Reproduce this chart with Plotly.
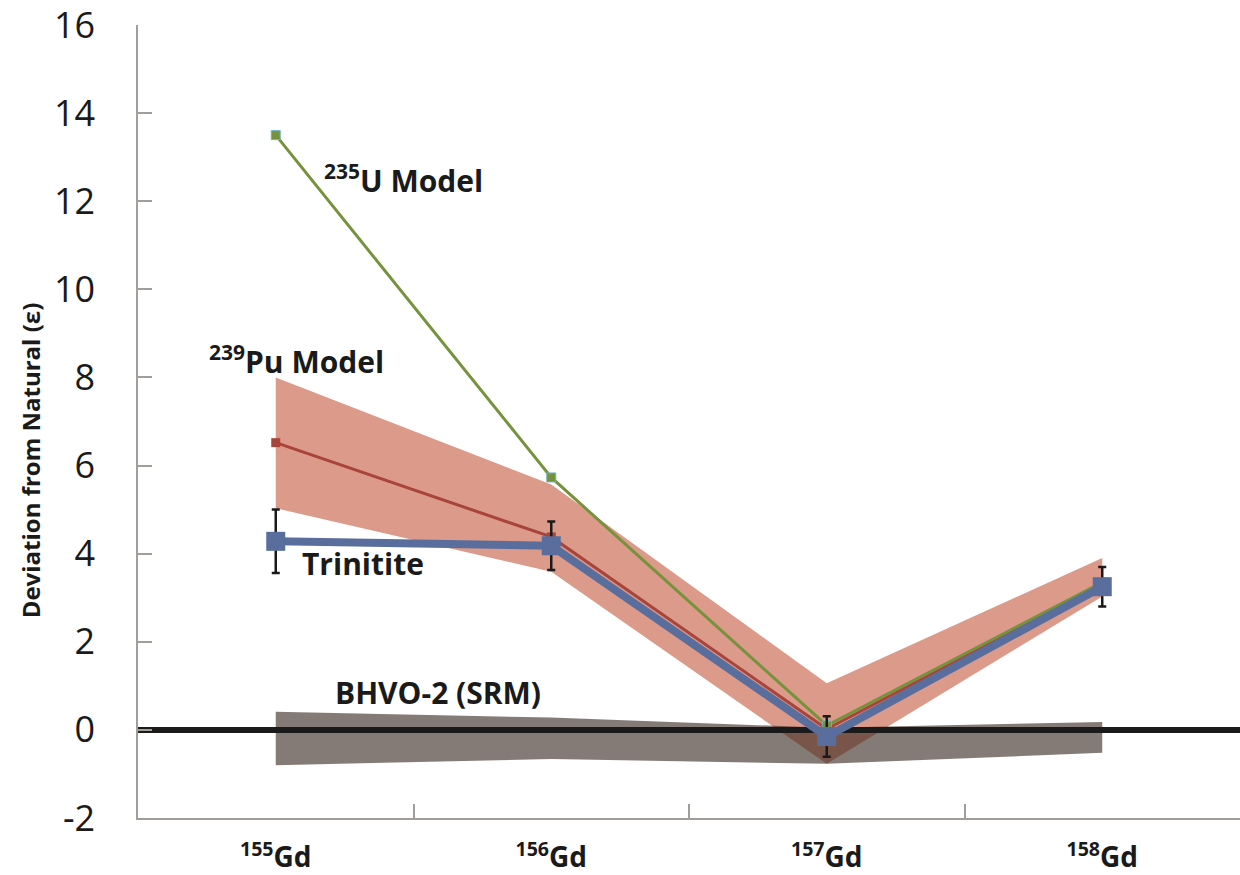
import plotly.graph_objects as go

# ---- data ----
isotopes = ["155", "156", "157", "158"]
x_pos = [0, 1, 2, 3]
u235_model = [13.5, 5.73, 0.1, 3.35]
pu239_model = [6.52, 4.38, 0.02, 3.3]
pu239_upper = [8.0, 5.57, 1.06, 3.9]
pu239_lower = [5.03, 3.59, -0.77, 3.03]
trinitite = [4.28, 4.18, -0.15, 3.25]
trinitite_err = [0.72, 0.55, 0.46, 0.45]
bhvo_upper = [0.41, 0.28, 0.05, 0.18]
bhvo_lower = [-0.8, -0.66, -0.77, -0.52]
baseline = 0
y_ticks = [-2, 0, 2, 4, 6, 8, 10, 12, 14, 16]
y_tick_text = ["-2", "0", "2", "4", "6", "8", "10", "12", "14", "16"]
x_range = [-0.5, 3.5]

FONT = "Open Sans"
AXIS_COLOR = "#a39d99"

fig = go.Figure()

# 239Pu model band
fig.add_trace(go.Scatter(x=x_pos, y=pu239_lower, mode="lines", line=dict(width=0),
                         showlegend=False, hoverinfo="skip"))
fig.add_trace(go.Scatter(x=x_pos, y=pu239_upper, mode="lines", line=dict(width=0),
                         fill="tonexty", fillcolor="#dc9a8a", showlegend=False, hoverinfo="skip"))
# BHVO-2 band
fig.add_trace(go.Scatter(x=x_pos, y=bhvo_lower, mode="lines", line=dict(width=0),
                         showlegend=False, hoverinfo="skip"))
fig.add_trace(go.Scatter(x=x_pos, y=bhvo_upper, mode="lines", line=dict(width=0),
                         fill="tonexty", fillcolor="rgba(58,42,34,0.62)", showlegend=False,
                         hoverinfo="skip"))
# baseline
fig.add_trace(go.Scatter(x=x_range, y=[baseline, baseline], mode="lines",
                         line=dict(color="#1a1a1a", width=6), showlegend=False, hoverinfo="skip"))
# 239Pu model line
fig.add_trace(go.Scatter(x=x_pos, y=pu239_model, mode="lines+markers",
                         line=dict(color="#a8443a", width=3),
                         marker=dict(symbol="square", size=9, color="#a8443a"),
                         showlegend=False))
# 235U model line
fig.add_trace(go.Scatter(x=x_pos, y=u235_model, mode="lines+markers",
                         line=dict(color="#76923c", width=3),
                         marker=dict(symbol="square", size=9, color="#76923c",
                                     line=dict(color="#6fb3cf", width=1)),
                         showlegend=False))
# Trinitite
fig.add_trace(go.Scatter(x=x_pos, y=trinitite, mode="lines+markers",
                         line=dict(color="#5a6e9e", width=8),
                         marker=dict(symbol="square", size=19, color="#5a6e9e"),
                         error_y=dict(type="data", array=trinitite_err, color="#1a1a1a",
                                      thickness=2.5, width=4),
                         showlegend=False))

label_font = dict(family=FONT, size=30, color="#1a1a1a")
annots = [
    ("<b><sup>235</sup>U Model</b>", 0.168, 12.5),
    ("<b><sup>239</sup>Pu Model</b>", -0.25, 8.4),
    ("<b>Trinitite</b>", 0.088, 3.78),
    ("<b>BHVO-2 (SRM)</b>", 0.208, 0.86),
]
for txt, ax_, ay_ in annots:
    fig.add_annotation(x=ax_, y=ay_, xref="x", yref="y", text=txt, showarrow=False,
                       xanchor="left", yanchor="middle", font=label_font)

fig.add_annotation(x=-0.098, y=0.451, xref="paper", yref="paper",
                   text="<b>Deviation from Natural (ε)</b>", showarrow=False,
                   xanchor="center", yanchor="middle",
                   textangle=-90, font=dict(family=FONT, size=24, color="#1a1a1a"))

fig.update_layout(
    width=1240, height=875,
    margin=dict(l=138, r=0, t=25, b=57),
    paper_bgcolor="white", plot_bgcolor="white",
    xaxis=dict(range=x_range, tickvals=x_pos,
               ticktext=[f"<b><sup>{i}</sup>Gd</b>" for i in isotopes],
               ticks="", showgrid=False, zeroline=False, automargin=False,
               showline=True, linecolor=AXIS_COLOR, linewidth=1.5,
               tickfont=dict(family=FONT, size=28, color="#1a1a1a"),
               ticklabelstandoff=14,
               minor=dict(tickvals=[0.5, 1.5, 2.5], ticks="inside", ticklen=14,
                          tickcolor=AXIS_COLOR, tickwidth=1.5, showgrid=False)),
    yaxis=dict(range=[-2, 16], tickvals=y_ticks, ticktext=y_tick_text,
               ticks="inside", ticklen=14, automargin=False,
               tickcolor=AXIS_COLOR, tickwidth=1.5, showgrid=False, zeroline=False,
               showline=True, linecolor=AXIS_COLOR, linewidth=1.5,
               tickfont=dict(family=FONT, size=36, color="#1a1a1a"),
               ticklabelstandoff=34, ticklabeloverflow="allow"),
)

fig.write_html("out.html", config={"displayModeBar": False},
               post_script="document.body.style.margin='0px';document.body.style.overflow='hidden';")
